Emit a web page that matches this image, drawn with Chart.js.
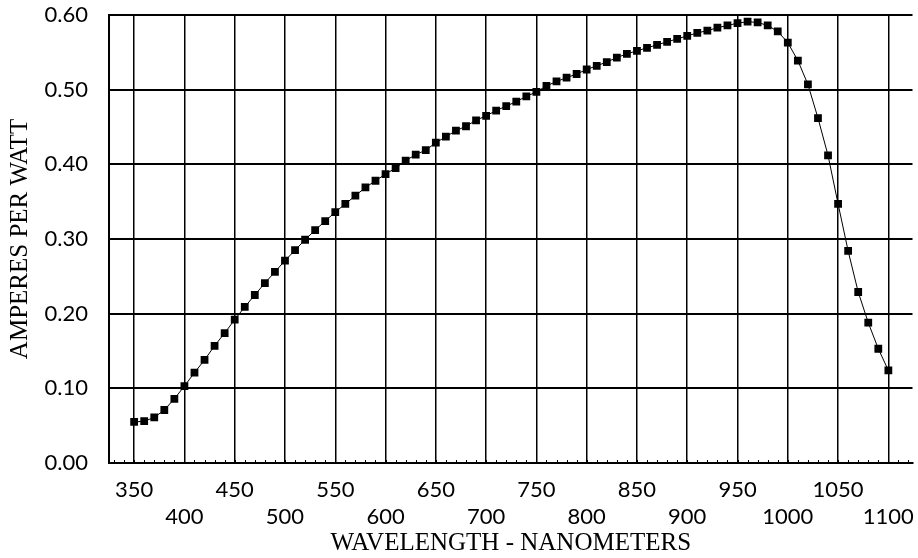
<!DOCTYPE html>
<html>
<head>
<meta charset="utf-8">
<script src="https://cdn.jsdelivr.net/npm/chart.js@4"></script>
<style>
  html, body { margin: 0; padding: 0; background: #fff; }
  #wrap { width: 918px; height: 558px; }
</style>
</head>
<body>
<div id="wrap"><canvas id="chart"></canvas></div>
<script>
// Data
const wavelengths = [
  350, 360, 370, 380, 390, 400, 410, 420, 430, 440,
  450, 460, 470, 480, 490, 500, 510, 520, 530, 540,
  550, 560, 570, 580, 590, 600, 610, 620, 630, 640,
  650, 660, 670, 680, 690, 700, 710, 720, 730, 740,
  750, 760, 770, 780, 790, 800, 810, 820, 830, 840,
  850, 860, 870, 880, 890, 900, 910, 920, 930, 940,
  950, 960, 970, 980, 990, 1000, 1010, 1020, 1030, 1040,
  1050, 1060, 1070, 1080, 1090, 1100
];
const responsivity = [
  0.055, 0.056, 0.061, 0.071, 0.086, 0.103, 0.121, 0.138, 0.157, 0.174,
  0.192, 0.209, 0.225, 0.241, 0.256, 0.271, 0.285, 0.299, 0.312, 0.324,
  0.336, 0.347, 0.358, 0.369, 0.378, 0.387, 0.395, 0.405, 0.413, 0.419,
  0.429, 0.437, 0.445, 0.451, 0.459, 0.465, 0.472, 0.478, 0.484, 0.491,
  0.497, 0.505, 0.511, 0.516, 0.521, 0.527, 0.532, 0.537, 0.543, 0.548,
  0.552, 0.556, 0.560, 0.564, 0.568, 0.572, 0.576, 0.579, 0.583, 0.586,
  0.589, 0.591, 0.590, 0.586, 0.578, 0.563, 0.539, 0.507, 0.462, 0.412,
  0.347, 0.284, 0.229, 0.188, 0.153, 0.124
];
const xTicks = [350, 400, 450, 500, 550, 600, 650, 700, 750, 800, 850, 900, 950, 1000, 1050, 1100];
const yTicks = [0, 0.1, 0.2, 0.3, 0.4, 0.5, 0.6];

const tickFont = { family: 'Lato', size: 22 };
const titleFont = { family: '"Liberation Serif"', size: 25 };

// small inward tick marks along the bottom axis, every 10 nm
const minorTicks = {
  id: 'minorTicks',
  afterDraw(chart) {
    const ctx = chart.ctx;
    const x = chart.scales.x;
    const bottom = chart.chartArea.bottom;
    ctx.save();
    ctx.strokeStyle = '#000';
    ctx.lineWidth = 1;
    ctx.beginPath();
    for (let v = 330; v <= 1120; v += 10) {
      const px = Math.round(x.getPixelForValue(v)) + 0.5;
      ctx.moveTo(px, bottom);
      ctx.lineTo(px, bottom - 3);
    }
    ctx.stroke();
    ctx.restore();
  }
};

new Chart(document.getElementById('chart'), {
  type: 'line',
  data: {
    datasets: [{
      data: wavelengths.map((w, i) => ({ x: w, y: responsivity[i] })),
      borderColor: '#000',
      borderWidth: 1,
      backgroundColor: '#000',
      pointStyle: 'rect',
      pointRadius: 5.5,
      pointHoverRadius: 5.5,
      pointBorderWidth: 0,
      tension: 0
    }]
  },
  options: {
    responsive: true,
    maintainAspectRatio: false,
    animation: false,
    layout: { padding: { top: 15, right: 5, left: 0, bottom: 0 } },
    plugins: {
      legend: { display: false },
      tooltip: { enabled: false }
    },
    scales: {
      x: {
        type: 'linear',
        min: 325,
        max: 1124,
        afterBuildTicks: (scale) => { scale.ticks = xTicks.map(v => ({ value: v })); },
        afterFit: (scale) => {
          scale.height = 95;
          scale.paddingLeft = 0;
          scale.paddingRight = 0;
        },
        grid: { color: '#000', lineWidth: 1.5, drawTicks: false },
        border: { color: '#000', width: 2 },
        ticks: {
          color: '#000',
          font: { ...tickFont, lineHeight: 1.21 },
          padding: 14,
          maxRotation: 0,
          autoSkip: false,
          callback: (v, i) => (i % 2 === 0 ? [String(v), ''] : ['', String(v)])
        },
        title: {
          display: true,
          text: 'WAVELENGTH - NANOMETERS',
          color: '#000',
          font: titleFont,
          padding: { top: 0, bottom: 0 }
        }
      },
      y: {
        min: 0,
        max: 0.6,
        afterBuildTicks: (scale) => { scale.ticks = yTicks.map(v => ({ value: v })); },
        afterFit: (scale) => {
          scale.width = 109;
          scale.paddingTop = 0;
          scale.paddingBottom = 0;
        },
        grid: { color: '#000', lineWidth: 2, drawTicks: false },
        border: { color: '#000', width: 2 },
        ticks: {
          color: '#000',
          font: tickFont,
          padding: 21,
          callback: (v) => v.toFixed(2)
        },
        title: {
          display: true,
          text: 'AMPERES PER WATT',
          color: '#000',
          font: titleFont,
          padding: { top: 5, bottom: 0 }
        }
      }
    }
  },
  plugins: [minorTicks]
});
</script>
</body>
</html>
